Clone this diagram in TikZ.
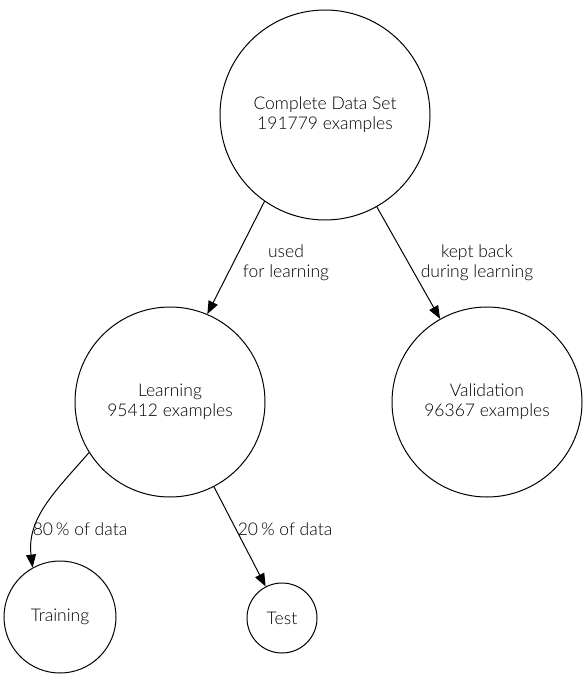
\documentclass[tikz,border=0pt]{standalone}
\usepackage{fontspec}
\setmainfont{Lato}[UprightFont=* Light]
\usetikzlibrary{arrows.meta}

\begin{document}
\begin{tikzpicture}[x=1pt, y=-1pt,
    dataset/.style={circle, draw, line width=1pt, inner sep=0pt, align=center, font=\fontsize{17.5}{20}\selectfont},
    edgetext/.style={align=center, inner sep=0pt, font=\fontsize{17.5}{20}\selectfont},
    flow/.style={-{Triangle[length=13pt, width=10pt]}, line width=1pt}]
      \useasboundingbox (0,0) rectangle (586,679);

      \node[dataset, minimum size=210pt] (complete) at (325,115) {Complete Data Set\\191779 examples};
      \node[dataset, minimum size=190pt] (learning) at (170,402) {Learning\\95412 examples};
      \node[dataset, minimum size=190pt] (validation) at (487,402) {Validation\\96367 examples};
      \node[dataset, minimum size=112pt] (training) at (60,617) {Training};
      \node[dataset, minimum size=70pt] (test) at (282,618) {Test};

      \node[edgetext] (usedtext) at (286,263) {used\\for learning};
      \node[edgetext] (keptText) at (477,263) {kept back\\during learning};
      \node[edgetext] (eightytext) at (80,529) {80\,\% of data};
      \node[edgetext] (twentytext) at (285,529) {20\,\% of data};

      \draw[flow] (complete.235) -- (learning.67);
      \draw[flow] (complete) -- (validation);
      \draw[flow] (learning.212) to[out=229, in=97] (training.119);
      \draw[flow] (learning) -- (test);
    \end{tikzpicture}
\end{document}
